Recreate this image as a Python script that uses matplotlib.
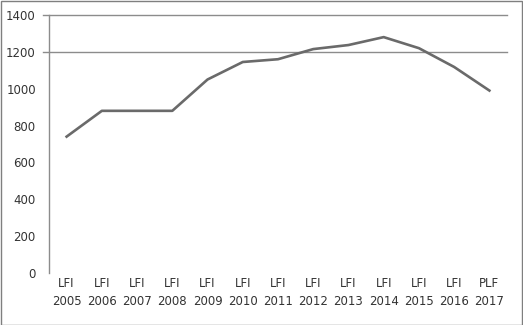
import matplotlib
matplotlib.use("Agg")
import matplotlib.pyplot as plt
from matplotlib.patches import Rectangle

years = ["2005", "2006", "2007", "2008", "2009", "2010", "2011",
         "2012", "2013", "2014", "2015", "2016", "2017"]
prefixes = ["LFI"] * 12 + ["PLF"]
values = [740, 880, 880, 880, 1050, 1145, 1160, 1215, 1237, 1280, 1220, 1118, 990]
yticks = [0, 200, 400, 600, 800, 1000, 1200, 1400]
grid_levels = [1200, 1400]

fig = plt.figure(figsize=(5.23, 3.25), dpi=100)
ax = fig.add_axes([49/523, 1-273/325, (507-49)/523, (273-15)/325])

x = list(range(len(years)))
ax.plot(x, values, color="#6a6a6a", lw=1.9, solid_joinstyle="round")

ax.set_xlim(-0.5, len(years) - 0.5)
ax.set_ylim(0, 1400)
ax.set_yticks(yticks)
ax.set_yticklabels([str(v) for v in yticks], fontsize=8.5, color="#333333")
ax.set_xticks(x)
ax.set_xticklabels([f"{p}\n{y}" for p, y in zip(prefixes, years)],
                   fontsize=8.5, color="#333333", linespacing=1.45)
ax.tick_params(axis="both", length=0)
ax.tick_params(axis="y", pad=9.5)
ax.tick_params(axis="x", pad=3)

for lv in grid_levels:
    ax.plot([-0.5 - 6/35.2, len(years) - 0.5], [lv, lv], color="#8c8c8c",
            lw=1.0, clip_on=False, zorder=0)

for s in ["top", "right", "bottom"]:
    ax.spines[s].set_visible(False)
ax.spines["left"].set_color("#8c8c8c")
ax.spines["left"].set_linewidth(1.0)

fig.patches.append(Rectangle((0.5/523, 0.5/325), 1-1.5/523, 1-1.5/325,
                             transform=fig.transFigure, fill=False,
                             edgecolor="#7f7f7f", lw=1.0))

fig.savefig("out.png", dpi=100)
